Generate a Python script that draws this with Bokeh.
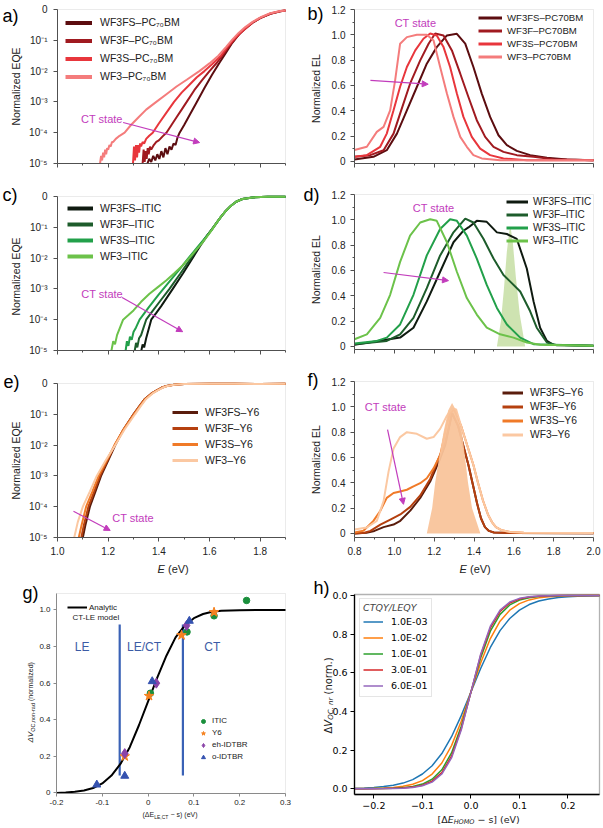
import math
from bokeh.plotting import figure
from bokeh.layouts import column, row
from bokeh.models import (Range1d, FixedTicker, CustomJSTickFormatter, Label, Legend,
                          LegendItem, Arrow, NormalHead, LinearAxis, LogAxis, BoxAnnotation)
from bokeh.core.properties import value
from bokeh.embed import file_html
from bokeh.resources import INLINE

# ------------------------------------------------------------------ data
names_pc_sub = ["WF3FS–PC₇₀BM", "WF3F–PC₇₀BM", "WF3S–PC₇₀BM", "WF3–PC₇₀BM"]
names_pc = ["WF3FS–PC70BM", "WF3F–PC70BM", "WF3S–PC70BM", "WF3–PC70BM"]
names_itic = ["WF3FS–ITIC", "WF3F–ITIC", "WF3S–ITIC", "WF3–ITIC"]
names_y6 = ["WF3FS–Y6", "WF3F–Y6", "WF3S–Y6", "WF3–Y6"]

# a) EQE (log10 values) vs E (eV)
a_E_WF3FS = [1.355,1.362,1.370,1.378,1.386,1.394,1.402,1.410,1.418,1.426,1.434,1.442,1.450,1.458,1.466,1.474,1.482,1.500,1.520,1.550,1.580,1.610,1.640,1.665,1.690,1.715,1.740,1.770,1.800,1.840,1.880,1.900]
a_lg_WF3FS = [-5.00,-4.85,-4.95,-4.75,-4.90,-4.70,-4.85,-4.60,-4.80,-4.50,-4.70,-4.45,-4.55,-4.35,-4.40,-4.15,-4.00,-3.75,-3.45,-3.00,-2.55,-2.12,-1.72,-1.40,-1.08,-0.82,-0.62,-0.43,-0.28,-0.14,-0.06,-0.03]
a_E_WF3F = [1.336,1.340,1.344,1.348,1.352,1.356,1.360,1.365,1.370,1.380,1.390,1.400,1.415,1.430,1.450,1.470,1.490,1.510,1.540,1.570,1.600,1.630,1.655,1.675,1.700,1.720,1.745,1.770,1.800,1.840,1.880,1.900]
a_lg_WF3F = [-5.00,-4.55,-4.95,-4.60,-4.85,-4.50,-4.70,-4.45,-4.55,-4.40,-4.30,-4.25,-4.12,-4.00,-3.75,-3.50,-3.25,-3.00,-2.62,-2.30,-2.00,-1.72,-1.45,-1.22,-0.96,-0.78,-0.60,-0.43,-0.28,-0.14,-0.06,-0.03]
a_E_WF3S = [1.298,1.302,1.306,1.310,1.314,1.318,1.322,1.326,1.330,1.336,1.342,1.350,1.362,1.376,1.400,1.430,1.460,1.490,1.520,1.550,1.580,1.610,1.645,1.670,1.695,1.720,1.745,1.770,1.800,1.840,1.880,1.900]
a_lg_WF3S = [-5.00,-4.45,-4.90,-4.40,-4.80,-4.40,-4.65,-4.35,-4.45,-4.30,-4.35,-4.20,-4.10,-4.00,-3.70,-3.35,-3.00,-2.70,-2.45,-2.20,-2.00,-1.78,-1.50,-1.22,-0.98,-0.77,-0.59,-0.42,-0.27,-0.13,-0.05,-0.03]
a_E_WF3 = [1.168,1.172,1.176,1.180,1.184,1.188,1.192,1.196,1.200,1.205,1.210,1.215,1.220,1.230,1.245,1.265,1.290,1.320,1.350,1.390,1.430,1.470,1.510,1.560,1.600,1.635,1.665,1.690,1.715,1.740,1.770,1.800,1.840,1.880,1.900]
a_lg_WF3 = [-5.00,-4.75,-4.90,-4.65,-4.80,-4.55,-4.70,-4.50,-4.55,-4.40,-4.45,-4.30,-4.30,-4.20,-4.10,-4.00,-3.75,-3.50,-3.25,-3.00,-2.75,-2.50,-2.28,-2.00,-1.75,-1.50,-1.22,-0.98,-0.76,-0.58,-0.40,-0.26,-0.12,-0.05,-0.03]

# b) normalized EL vs E (eV)
b_E_WF3FS = [0.800,0.895,0.962,1.013,1.063,1.113,1.163,1.213,1.264,1.314,1.356,1.397,1.439,1.481,1.523,1.565,1.615,1.682,1.766,1.866,2.000]
b_y_WF3FS = [0.016,0.037,0.089,0.220,0.404,0.588,0.772,0.903,0.995,1.008,0.930,0.746,0.536,0.352,0.207,0.129,0.084,0.050,0.029,0.016,0.010]
b_E_WF3F = [0.800,0.879,0.946,0.996,1.029,1.079,1.130,1.172,1.205,1.247,1.289,1.331,1.372,1.414,1.456,1.498,1.548,1.615,1.699,1.799,2.000]
b_y_WF3F = [0.037,0.050,0.089,0.220,0.378,0.614,0.798,0.930,1.010,0.995,0.877,0.693,0.509,0.326,0.194,0.116,0.076,0.050,0.037,0.018,0.010]
b_E_WF3S = [0.800,0.862,0.929,0.962,0.996,1.029,1.063,1.105,1.146,1.180,1.213,1.247,1.280,1.314,1.347,1.389,1.431,1.481,1.548,1.665,2.000]
b_y_WF3S = [0.037,0.050,0.116,0.220,0.404,0.590,0.746,0.877,0.969,1.010,0.995,0.903,0.746,0.536,0.352,0.194,0.102,0.050,0.024,0.010,0.010]
b_E_WF3 = [0.800,0.862,0.912,0.946,0.979,1.004,1.029,1.063,1.113,1.163,1.197,1.230,1.264,1.297,1.331,1.364,1.397,1.439,1.531,1.700,2.000]
b_y_WF3 = [0.090,0.116,0.234,0.273,0.404,0.641,0.930,0.982,1.000,1.000,0.956,0.746,0.536,0.352,0.194,0.116,0.050,0.024,0.010,0.010,0.010]

# c) EQE (log10) ITIC blends
c_E_WF3FS = [1.331,1.336,1.342,1.350,1.360,1.370,1.390,1.410,1.455,1.495,1.533,1.565,1.595,1.610,1.625,1.645,1.665,1.685,1.705,1.730,1.770,1.830,1.900]
c_lg_WF3FS = [-5.00,-4.80,-4.90,-4.60,-4.30,-4.00,-3.78,-3.55,-3.00,-2.50,-2.00,-1.58,-1.22,-1.06,-0.89,-0.66,-0.46,-0.30,-0.17,-0.08,-0.03,-0.01,-0.01]
c_E_WF3F = [1.305,1.310,1.315,1.322,1.330,1.340,1.350,1.375,1.400,1.442,1.485,1.527,1.560,1.590,1.608,1.625,1.645,1.665,1.685,1.705,1.730,1.770,1.830,1.900]
c_lg_WF3F = [-5.00,-4.75,-4.90,-4.60,-4.50,-4.25,-4.00,-3.72,-3.45,-3.00,-2.50,-2.00,-1.60,-1.27,-1.08,-0.89,-0.66,-0.46,-0.30,-0.17,-0.08,-0.03,-0.01,-0.01]
c_E_WF3S = [1.269,1.274,1.280,1.286,1.293,1.300,1.310,1.324,1.360,1.400,1.440,1.480,1.520,1.555,1.590,1.608,1.625,1.645,1.665,1.685,1.705,1.730,1.770,1.830,1.900]
c_lg_WF3S = [-5.00,-4.70,-4.85,-4.55,-4.65,-4.40,-4.25,-4.00,-3.60,-3.18,-2.78,-2.38,-1.97,-1.62,-1.28,-1.09,-0.89,-0.66,-0.46,-0.30,-0.17,-0.08,-0.03,-0.01,-0.01]
c_E_WF3 = [1.213,1.220,1.227,1.235,1.247,1.259,1.280,1.300,1.330,1.363,1.395,1.429,1.460,1.494,1.520,1.546,1.570,1.590,1.608,1.625,1.645,1.665,1.685,1.705,1.730,1.770,1.830,1.900]
c_lg_WF3 = [-5.00,-4.70,-4.80,-4.50,-4.25,-4.00,-3.85,-3.70,-3.42,-3.16,-2.95,-2.73,-2.50,-2.24,-2.00,-1.75,-1.52,-1.30,-1.10,-0.89,-0.66,-0.46,-0.30,-0.17,-0.08,-0.03,-0.01,-0.01]

# d) normalized EL ITIC blends + ITIC reference peak
d_E_WF3FS = [0.800,1.029,1.096,1.163,1.230,1.297,1.347,1.372,1.414,1.464,1.515,1.565,1.615,1.665,1.699,1.732,1.766,1.799,2.000]
d_y_WF3FS = [0.013,0.070,0.148,0.356,0.590,0.823,0.914,0.940,0.992,0.984,0.901,0.888,0.849,0.616,0.356,0.148,0.044,0.013,0.005]
d_E_WF3F = [0.800,0.962,1.029,1.096,1.163,1.230,1.297,1.356,1.397,1.448,1.498,1.548,1.582,1.632,1.682,1.715,1.766,1.816,2.000]
d_y_WF3F = [0.018,0.044,0.096,0.226,0.460,0.719,0.901,1.010,0.979,0.849,0.694,0.564,0.512,0.434,0.278,0.148,0.031,0.010,0.005]
d_E_WF3S = [0.800,0.912,0.962,1.029,1.096,1.163,1.230,1.280,1.314,1.364,1.414,1.464,1.515,1.565,1.632,1.699,2.000]
d_y_WF3S = [0.023,0.044,0.070,0.174,0.408,0.719,0.927,1.005,0.992,0.875,0.694,0.486,0.304,0.174,0.070,0.018,0.005]
d_E_WF3 = [0.800,0.862,0.929,0.979,1.029,1.079,1.130,1.180,1.213,1.264,1.314,1.364,1.414,1.464,1.531,1.598,1.665,1.732,2.000]
d_y_WF3 = [0.057,0.096,0.226,0.408,0.668,0.875,0.979,1.005,0.992,0.823,0.590,0.382,0.252,0.148,0.096,0.070,0.031,0.013,0.005]
d_fill_E = [1.515,1.535,1.550,1.565,1.578,1.585,1.595,1.610,1.630,1.657]
d_fill_y = [0.00,0.20,0.45,0.75,0.92,0.93,0.82,0.55,0.25,0.00]

# e) EQE (log10) Y6 blends
e_E_WF3FS = [1.100,1.110,1.128,1.150,1.172,1.200,1.228,1.260,1.300,1.325,1.345,1.370,1.390,1.410,1.430,1.460,1.500,1.600,1.700,1.800,1.900]
e_lg_WF3FS = [-5.00,-4.60,-4.00,-3.50,-3.00,-2.50,-2.00,-1.50,-1.00,-0.72,-0.50,-0.33,-0.23,-0.14,-0.08,-0.04,-0.02,-0.01,-0.01,-0.015,-0.01]
e_E_WF3F = [1.094,1.104,1.122,1.145,1.168,1.197,1.226,1.260,1.300,1.325,1.345,1.370,1.390,1.410,1.430,1.460,1.500,1.600,1.700,1.800,1.900]
e_lg_WF3F = [-5.00,-4.60,-4.00,-3.50,-3.00,-2.50,-2.00,-1.50,-1.00,-0.72,-0.50,-0.33,-0.23,-0.14,-0.08,-0.04,-0.02,-0.01,-0.01,-0.015,-0.01]
e_E_WF3S = [1.084,1.095,1.113,1.138,1.162,1.194,1.225,1.260,1.302,1.327,1.347,1.372,1.392,1.412,1.432,1.460,1.500,1.600,1.700,1.800,1.900]
e_lg_WF3S = [-5.00,-4.60,-4.00,-3.50,-3.00,-2.50,-2.00,-1.50,-1.00,-0.72,-0.50,-0.33,-0.23,-0.14,-0.08,-0.04,-0.02,-0.01,-0.01,-0.015,-0.01]
e_E_WF3 = [1.066,1.080,1.100,1.128,1.155,1.190,1.228,1.264,1.306,1.330,1.350,1.374,1.394,1.414,1.434,1.462,1.500,1.600,1.700,1.800,1.900]
e_lg_WF3 = [-5.00,-4.50,-4.00,-3.50,-3.00,-2.50,-2.00,-1.50,-1.00,-0.72,-0.50,-0.33,-0.23,-0.14,-0.08,-0.04,-0.02,-0.01,-0.01,-0.015,-0.01]

# f) normalized EL Y6 blends + Y6 reference peak
f_E_WF3FS = [0.800,0.860,0.900,0.946,0.996,1.030,1.080,1.130,1.180,1.230,1.256,1.275,1.290,1.320,1.345,1.372,1.395,1.415,1.435,1.455,1.475,1.500,1.600,2.000]
f_y_WF3FS = [0.000,0.005,0.020,0.050,0.070,0.100,0.180,0.280,0.410,0.590,0.700,0.840,0.950,0.850,0.700,0.540,0.380,0.240,0.120,0.050,0.020,0.008,0.003,0.002]
f_E_WF3F = [0.800,0.850,0.880,0.930,0.980,1.030,1.080,1.130,1.180,1.230,1.256,1.275,1.290,1.320,1.345,1.372,1.395,1.415,1.435,1.455,1.475,1.500,1.600,2.000]
f_y_WF3F = [0.000,0.005,0.020,0.070,0.110,0.150,0.210,0.300,0.430,0.620,0.720,0.850,0.950,0.850,0.700,0.540,0.380,0.240,0.120,0.050,0.020,0.008,0.003,0.002]
f_E_WF3S = [0.800,0.845,0.895,0.929,0.962,0.996,1.029,1.063,1.096,1.130,1.163,1.197,1.230,1.245,1.262,1.280,1.300,1.335,1.365,1.397,1.420,1.445,1.470,1.490,1.510,1.540,1.580,1.650,2.000]
f_y_WF3S = [0.008,0.021,0.099,0.177,0.281,0.319,0.332,0.345,0.371,0.397,0.436,0.514,0.618,0.720,0.850,0.950,0.980,0.850,0.700,0.540,0.400,0.260,0.150,0.090,0.050,0.025,0.012,0.006,0.003]
f_E_WF3 = [0.800,0.862,0.912,0.946,0.971,0.996,1.029,1.063,1.113,1.163,1.197,1.230,1.264,1.290,1.310,1.335,1.365,1.397,1.420,1.445,1.470,1.490,1.510,1.540,1.580,1.650,2.000]
f_y_WF3 = [0.031,0.047,0.099,0.255,0.488,0.670,0.761,0.800,0.787,0.748,0.761,0.826,0.930,0.990,0.980,0.850,0.700,0.540,0.400,0.260,0.150,0.090,0.050,0.025,0.012,0.006,0.003]
f_fill_E = [1.163,1.190,1.205,1.225,1.247,1.270,1.290,1.310,1.340,1.355,1.370,1.390,1.432]
f_fill_y = [0.00,0.20,0.40,0.60,0.80,0.97,1.03,0.97,0.80,0.60,0.40,0.20,0.00]

# g) normalized dV_OC,non-rad vs (dE_LE,CT - s)
g_model_x = [-0.20,-0.18,-0.16,-0.14,-0.12,-0.10,-0.08,-0.06,-0.04,-0.02,0.00,0.02,0.04,0.06,0.08,0.10,0.12,0.14,0.16,0.20,0.25,0.30]
g_model_y = [0.000,0.002,0.006,0.013,0.027,0.052,0.095,0.160,0.250,0.370,0.500,0.630,0.750,0.850,0.915,0.955,0.978,0.990,0.996,0.999,1.000,1.000]
itic_x = [0.005, 0.085, 0.144, 0.215]
itic_y = [0.545, 0.880, 0.968, 1.052]
y6_x = [-0.051, 0.002, 0.073, 0.144]
y6_y = [0.200, 0.530, 0.862, 0.988]
eh_x = [-0.051, 0.018, 0.084]
eh_y = [0.215, 0.600, 0.915]
o_x = [-0.112, -0.051, 0.009, 0.090]
o_y = [0.045, 0.093, 0.610, 0.940]
g_region_x = [-0.062, 0.076]
g_region_y0 = [0.095, 0.095]
g_region_y1 = [0.920, 0.920]
g_region_names = ["LE", "LE/CT", "CT"]
g_region_label_x = [-0.144, -0.009, 0.140]
g_series_names = ["ITIC", "Y6", "eh-IDTBR", "o-IDTBR"]

# h) simulated dV_OC,nr (norm.) vs [dE_HOMO - s]
h_x = [-0.24,-0.22,-0.20,-0.18,-0.16,-0.14,-0.12,-0.10,-0.08,-0.06,-0.04,-0.02,0.00,0.02,0.04,0.06,0.08,0.10,0.12,0.14,0.16,0.18,0.20,0.22,0.24,0.265]
h_1e3 = [0.0025,0.0041,0.0067,0.011,0.018,0.029,0.047,0.076,0.119,0.182,0.269,0.378,0.500,0.622,0.731,0.818,0.881,0.924,0.953,0.971,0.982,0.989,0.993,0.996,0.9975,0.9986]
h_1e2 = [0.0006,0.0010,0.0019,0.0036,0.0067,0.0124,0.023,0.042,0.076,0.133,0.223,0.349,0.500,0.651,0.777,0.867,0.924,0.958,0.977,0.9876,0.9933,0.9964,0.9981,0.9990,0.9994,0.9997]
h_1e1 = [0.0001,0.0003,0.0006,0.0013,0.0027,0.0056,0.0116,0.024,0.049,0.098,0.185,0.323,0.500,0.677,0.815,0.902,0.951,0.976,0.9884,0.9944,0.9973,0.9987,0.9994,0.9997,0.9999,1.0]
h_3e1 = [0.0001,0.0002,0.0003,0.0007,0.0017,0.0037,0.0082,0.018,0.039,0.083,0.168,0.310,0.500,0.690,0.832,0.917,0.961,0.982,0.9918,0.9963,0.9983,0.9993,0.9997,0.9998,0.9999,1.0]
h_6e1 = [0.0000,0.0001,0.0002,0.0006,0.0013,0.0029,0.0067,0.015,0.034,0.076,0.159,0.304,0.500,0.696,0.841,0.924,0.966,0.985,0.9933,0.9971,0.9987,0.9994,0.9998,0.9999,1.0,1.0]
h_names = ["1.0E-03", "1.0E-02", "1.0E-01", "3.0E-01", "6.0E-01"]

# ticks
E_EQE_MAJOR = [1.0, 1.2, 1.4, 1.6, 1.8]
E_EQE_MINOR = [1.1, 1.3, 1.5, 1.7, 1.9]
E_EL_MAJOR = [0.8, 1.0, 1.2, 1.4, 1.6, 1.8, 2.0]
E_EL_MINOR = [0.9, 1.1, 1.3, 1.5, 1.7, 1.9]
LOG_TICKS = [1e-5, 1e-4, 1e-3, 1e-2, 1e-1, 1.0]
EL_MAJOR = [0.0, 0.2, 0.4, 0.6, 0.8, 1.0, 1.2]
EL_MINOR = [0.1, 0.3, 0.5, 0.7, 0.9, 1.1]
G_XTICKS = [-0.2, -0.1, 0.0, 0.1, 0.2, 0.3]
G_YTICKS = [0.0, 0.2, 0.4, 0.6, 0.8, 1.0]
H_XTICKS = [-0.2, -0.1, 0.0, 0.1, 0.2]
H_YTICKS = [0.0, 0.2, 0.4, 0.6, 0.8, 1.0]

# ------------------------------------------------------------------ style
SANS = "Liberation Sans"
MPL = "DejaVu Sans"
MAG = "#c23cbc"
AX = "#505050"
RED = ["#5c0d10", "#a01a20", "#e8363c", "#f47c7c"]
GRN = ["#0f1a10", "#1d5c2b", "#22a04a", "#6cc24a"]
ORG = ["#5a1c0c", "#b5400f", "#f07a28", "#fbc8a2"]
TAB = ["#1f77b4", "#ff7f0e", "#2ca02c", "#d62728", "#9467bd"]
GBLUE = "#3a62b6"

LOG_CODE = """
const e = Math.round(Math.log10(tick));
if (e === 0) { return "0"; }
const s = {1: "\\u00b9", 2: "\\u00b2", 3: "\\u00b3", 4: "\\u2074", 5: "\\u2075"};
return "10\\u207b" + s[-e];
"""
BLANK = "return '';"
ZERO1 = "return Math.abs(tick) < 1e-9 ? '0' : tick.toFixed(1);"
FIX1 = "return tick.toFixed(1);"


def fmt(code):
    return CustomJSTickFormatter(code=code)


class Panel:
    """A figure whose frame fills the whole canvas; axes are pinned at the plot-box edges."""

    def __init__(self, org, size, box, xr, yr, log=False, box_color="#bdbdbd", box_width=1.0):
        ox, oy = org
        w, h = size
        L, T, R, B = box[0] - ox, box[1] - oy, box[2] - ox, box[3] - oy
        self.left, self.bottom = ox, oy + h
        x0, x1 = xr
        xpp = (x1 - x0) / (R - L)
        xs, xe = x0 - L * xpp, x1 + (w - R) * xpp
        if log:
            l0, l1 = math.log10(yr[0]), math.log10(yr[1])
            ypp = (l1 - l0) / (B - T)
            ys, ye = 10 ** (l0 - (h - B) * ypp), 10 ** (l1 + T * ypp)
        else:
            ypp = (yr[1] - yr[0]) / (B - T)
            ys, ye = yr[0] - (h - B) * ypp, yr[1] + T * ypp
        p = figure(width=w, height=h, x_range=Range1d(xs, xe), y_range=Range1d(ys, ye),
                   y_axis_type="log" if log else "linear",
                   x_axis_location=None, y_axis_location=None,
                   output_backend="svg", toolbar_location=None,
                   min_border=0, min_border_left=0, min_border_right=0,
                   min_border_top=0, min_border_bottom=0)
        p.grid.visible = False
        p.outline_line_color = None
        p.background_fill_color = "white"
        p.border_fill_color = "white"
        p.add_layout(BoxAnnotation(left=x0, right=x1, bottom=yr[0], top=yr[1],
                                   fill_alpha=0.0, fill_color=None, line_color=box_color,
                                   line_width=box_width, level="underlay"))
        self.xaxis = LinearAxis(fixed_location=yr[0], bounds=(x0, x1))
        self.yaxis = (LogAxis if log else LinearAxis)(fixed_location=x0, bounds=(yr[0], yr[1]))
        for ax in (self.xaxis, self.yaxis):
            ax.axis_line_color = AX
            ax.major_tick_line_color = AX
            ax.minor_tick_line_color = AX
            ax.major_tick_in = 0
            ax.major_tick_out = 4
            ax.minor_tick_in = 0
            ax.minor_tick_out = 2
            ax.major_label_text_font = SANS
            ax.major_label_text_font_size = "10px"
            ax.major_label_text_color = "#222222"
            ax.major_label_standoff = 5
        p.add_layout(self.xaxis, "below")
        p.add_layout(self.yaxis, "left")
        self.p = p

    def text(self, px, py, t, size, font=SANS, style="normal", angle=0.0, align="left",
             color="#222222", baseline="middle"):
        self.p.add_layout(Label(x=px - self.left, y=self.bottom - py, x_units="screen",
                                y_units="screen", text=t, text_font=font,
                                text_font_size=f"{size}px", text_font_style=style,
                                text_color=color, angle=angle, text_align=align,
                                text_baseline=baseline, level="overlay"))

    def dtext(self, x, y, t, size, color, align="center"):
        self.p.add_layout(Label(x=x, y=y, text=t, text_font=SANS, text_font_size=f"{size}px",
                                text_color=color, text_align=align, text_baseline="middle"))

    def legend(self, labels, rends, px, py_bottom, size, gw, gh, standoff, spacing=0,
               font=SANS, key_width=None, **kw):
        if key_width is not None:
            # legend keys drawn thicker than the curves (as in the original figure):
            # a one-point line draws nothing in the plot but supplies the legend key style
            keys = []
            for r in rends:
                src = r.data_source.data
                keys.append(self.p.line(list(src["x"][:1]), list(src["y"][:1]),
                                        line_color=r.glyph.line_color, line_width=key_width))
            rends = keys
        leg = Legend(items=[LegendItem(label=value(l), renderers=[r]) for l, r in zip(labels, rends)],
                     location=(px - self.left, self.bottom - py_bottom), padding=0, margin=0,
                     spacing=spacing, glyph_width=gw, glyph_height=gh, label_height=8,
                     label_width=8, label_standoff=standoff, label_text_font=font,
                     label_text_font_size=f"{size}px", label_text_color="#222222",
                     border_line_color=None, background_fill_alpha=0.0)
        for k, v in kw.items():
            setattr(leg, k, v)
        self.p.add_layout(leg)

    def arrow(self, x0, y0, x1, y1):
        self.p.add_layout(Arrow(end=NormalHead(size=6, fill_color=MAG, line_color=MAG, line_width=1),
                                x_start=x0, y_start=y0, x_end=x1, y_end=y1,
                                line_color=MAG, line_width=1.2))

    def lines(self, xs, ys, colors, log=False, width=2.0):
        out = []
        for x, y, c in zip(xs, ys, colors):
            yy = [10 ** v for v in y] if log else list(y)
            out.append(self.p.line(list(x), yy, line_color=c, line_width=width))
        return out


def log_panel(org, size, box, show_x):
    P = Panel(org, size, box, (1.0, 1.9), (1e-5, 1.0), log=True)
    P.xaxis.ticker = FixedTicker(ticks=E_EQE_MAJOR, minor_ticks=E_EQE_MINOR)
    P.xaxis.formatter = fmt(FIX1 if show_x else BLANK)
    P.yaxis.ticker = FixedTicker(ticks=LOG_TICKS, minor_ticks=[])
    P.yaxis.formatter = fmt(LOG_CODE)
    P.yaxis.major_label_standoff = 6
    return P


def el_panel(org, size, box, show_x, ymin):
    P = Panel(org, size, box, (0.8, 2.0), (ymin, 1.2))
    P.xaxis.ticker = FixedTicker(ticks=E_EL_MAJOR, minor_ticks=E_EL_MINOR)
    P.xaxis.formatter = fmt(FIX1 if show_x else BLANK)
    P.yaxis.ticker = FixedTicker(ticks=EL_MAJOR, minor_ticks=EL_MINOR)
    P.yaxis.formatter = fmt(ZERO1)
    return P


def letter(P, px, py, t):
    P.text(px, py, t, 18, color="black")


# ------------------------------------------------------------------ a
A = log_panel((0, 0), (300, 180), (57, 9, 285, 163), False)
ra = A.lines([a_E_WF3FS, a_E_WF3F, a_E_WF3S, a_E_WF3],
             [a_lg_WF3FS, a_lg_WF3F, a_lg_WF3S, a_lg_WF3], RED, log=True)
A.legend(names_pc_sub, ra, 65, 84.5, 10.5, 27, 17, 8, spacing=1, key_width=4)
letter(A, 2, 15, "a)")
A.text(15, 86, "Normalized EQE", 10.5, angle=math.pi / 2, align="center")
A.dtext(1.175, 10 ** -3.54, "CT state", 11, MAG)
A.arrow(1.259, 10 ** -3.67, 1.561, 10 ** -4.32)

# ------------------------------------------------------------------ b
B = el_panel((300, 0), (303, 180), (354, 9, 593, 163), False, -0.016)
rb = B.lines([b_E_WF3FS, b_E_WF3F, b_E_WF3S, b_E_WF3],
             [b_y_WF3FS, b_y_WF3F, b_y_WF3S, b_y_WF3], RED)
B.legend(names_pc, rb, 478, 62.5, 9.6, 24, 13, 5, key_width=3)
letter(B, 307, 13, "b)")
B.text(315, 88, "Normalized EL", 10.5, angle=math.pi / 2, align="center")
B.dtext(1.106, 1.09, "CT state", 11, MAG)
B.arrow(0.88, 0.64, 1.17, 0.61)

# ------------------------------------------------------------------ c
C = log_panel((0, 180), (300, 188), (57, 196, 285, 350), False)
rc = C.lines([c_E_WF3FS, c_E_WF3F, c_E_WF3S, c_E_WF3],
             [c_lg_WF3FS, c_lg_WF3F, c_lg_WF3S, c_lg_WF3], GRN, log=True)
C.legend(names_itic, rc, 67, 264, 10.5, 26, 16, 7, key_width=4)
letter(C, 2, 194, "c)")
C.text(15, 276, "Normalized EQE", 10.5, angle=math.pi / 2, align="center")
C.dtext(1.176, 10 ** -3.15, "CT state", 11, MAG)
C.arrow(1.255, 10 ** -3.28, 1.494, 10 ** -4.39)

# ------------------------------------------------------------------ d
D = el_panel((300, 180), (303, 188), (354, 194, 593, 349), False, -0.024)
D.p.patch(d_fill_E, d_fill_y, fill_color="#c9e0a8", fill_alpha=0.9, line_color=None)
rd = D.lines([d_E_WF3FS, d_E_WF3F, d_E_WF3S, d_E_WF3],
             [d_y_WF3FS, d_y_WF3F, d_y_WF3S, d_y_WF3], GRN)
D.legend(names_itic, rd, 506, 246.5, 10, 22, 13, 5, key_width=3)
letter(D, 303, 194, "d)")
D.text(315, 269, "Normalized EL", 10.5, angle=math.pi / 2, align="center")
D.dtext(1.197, 1.097, "CT state", 11, MAG)
D.arrow(0.946, 0.584, 1.272, 0.52)

# ------------------------------------------------------------------ e
E = log_panel((0, 368), (300, 210), (57, 383, 285, 537), True)
re_ = E.lines([e_E_WF3FS, e_E_WF3F, e_E_WF3S, e_E_WF3],
              [e_lg_WF3FS, e_lg_WF3F, e_lg_WF3S, e_lg_WF3], ORG, log=True)
E.legend(names_y6, re_, 172, 468, 10.5, 26, 16, 7, key_width=3)
letter(E, 3, 381, "e)")
E.text(15, 460, "Normalized EQE", 10.5, angle=math.pi / 2, align="center")
E.text(157, 568, "E", 11, style="italic")
E.text(167.5, 568, "(eV)", 11)
E.dtext(1.298, 10 ** -4.38, "CT state", 11, MAG)
E.arrow(1.063, 10 ** -4.15, 1.208, 10 ** -4.77)

# ------------------------------------------------------------------ f
F = el_panel((300, 368), (303, 210), (354, 381, 593, 537), True, -0.032)
rf = F.lines([f_E_WF3FS, f_E_WF3F, f_E_WF3S, f_E_WF3],
             [f_y_WF3FS, f_y_WF3F, f_y_WF3S, f_y_WF3], ORG)
F.p.patch(f_fill_E, f_fill_y, fill_color="#f9c49b", fill_alpha=0.95, line_color=None)
F.legend(names_y6, rf, 502, 440.5, 10.3, 21, 13, 7, spacing=1, key_width=3)
letter(F, 307, 379, "f)")
F.text(315, 459, "Normalized EL", 10.5, angle=math.pi / 2, align="center")
F.text(459, 568, "E", 11, style="italic")
F.text(469.5, 568, "(eV)", 11)
F.dtext(0.956, 0.995, "CT state", 11, MAG)
F.arrow(0.966, 0.82, 1.046, 0.23)

# ------------------------------------------------------------------ g
G = Panel((0, 578), (300, 248), (56, 593, 285, 793), (-0.2, 0.3), (-0.003, 1.09))
G.xaxis.ticker = FixedTicker(ticks=G_XTICKS, minor_ticks=[])
G.yaxis.ticker = FixedTicker(ticks=G_YTICKS, minor_ticks=[])
G.xaxis.formatter = fmt(ZERO1)
G.yaxis.formatter = fmt(ZERO1)
for ax in (G.xaxis, G.yaxis):
    ax.major_label_text_font_size = "8px"
    ax.major_tick_out = 3
    ax.major_label_standoff = 3
    ax.axis_line_color = "#8a8a8a"
    ax.major_tick_line_color = "#8a8a8a"
G.p.segment(x0=g_region_x, y0=g_region_y0, x1=g_region_x, y1=g_region_y1,
            line_color=GBLUE, line_width=2.2)
rl = G.p.line(g_model_x, g_model_y, line_color="black", line_width=2)
r1 = G.p.scatter(itic_x, itic_y, marker="circle", size=6.5, fill_color="#1a8f3c", line_color="#1a8f3c")
r2 = G.p.scatter(y6_x, y6_y, marker="star", size=10, fill_color="#f58220", line_color="#f58220")
r3 = G.p.scatter(eh_x, eh_y, marker="diamond", size=10, fill_color="#8a43a8", line_color="#8a43a8")
r4 = G.p.scatter(o_x, o_y, marker="triangle", size=8, fill_color="#3552b0", line_color="#3552b0")
for nm, xx in zip(g_region_names, g_region_label_x):
    G.dtext(xx, 0.80, nm, 12, "#3b5ba5")
G.legend(["Analytic"], [rl], 67, 612, 8, 20, 10, 2)
G.text(72, 617, "CT-LE model", 8)
G.legend(g_series_names, [r1, r2, r3, r4], 198, 762.7, 8, 10, 12, 4)
letter(G, 22, 592, "g)")
G.text(30, 742, "ΔV", 8, style="italic", angle=math.pi / 2)
G.text(32, 731.3, "OC,non-rad", 5.5, angle=math.pi / 2)
G.text(30, 700.5, "(normalized)", 7, angle=math.pi / 2)
G.text(142, 814, "(ΔE", 7)
G.text(153.7, 816, "LE,CT", 5)
G.text(170, 814, "− s) (eV)", 7)

# ------------------------------------------------------------------ h
H = Panel((300, 578), (303, 248), (354, 594, 599, 794), (-0.24, 0.265), (-0.03, 1.005),
          box_color="black", box_width=1.3)
H.xaxis.ticker = FixedTicker(ticks=H_XTICKS, minor_ticks=[])
H.yaxis.ticker = FixedTicker(ticks=H_YTICKS, minor_ticks=[])
H.xaxis.formatter = fmt("return (tick < -1e-9 ? '\\u2212' : '') + Math.abs(tick).toFixed(1);")
H.yaxis.formatter = fmt("return tick > 0.95 ? '0.0' : tick.toFixed(1);")
for ax in (H.xaxis, H.yaxis):
    ax.axis_line_color = "black"
    ax.axis_line_width = 1.3
    ax.major_tick_line_color = "black"
    ax.major_label_text_font = MPL
    ax.major_label_text_font_size = "9.5px"
    ax.major_label_text_color = "black"
    ax.major_label_standoff = 3
rh = H.lines([h_x] * 5, [h_1e3, h_1e2, h_1e1, h_3e1, h_6e1], TAB, width=1.5)
H.legend(h_names, rh, 359, 697, 9.5, 20, 15, 8, spacing=1, font=MPL,
         padding=3, title="CTQY/LEQY", title_text_font=MPL, title_text_font_size="9.5px",
         title_text_font_style="italic", title_standoff=1, border_line_color="#cccccc",
         border_line_width=1, background_fill_color="white", background_fill_alpha=0.85,
         label_text_color="black")
letter(H, 313, 587, "h)")
H.text(328, 733, "Δ", 10, font=MPL, angle=math.pi / 2)
H.text(328, 726.2, "V", 10, font=MPL, style="italic", angle=math.pi / 2)
H.text(330.5, 719.3, "OC, nr", 7, font=MPL, style="italic", angle=math.pi / 2)
H.text(328, 694, "(norm.)", 10, font=MPL, angle=math.pi / 2)
H.text(437, 819, "[Δ", 9.5, font=MPL)
H.text(447.2, 819, "E", 9.5, font=MPL, style="italic")
H.text(453.2, 821.5, "HOMO", 6.5, font=MPL, style="italic")
H.text(476.9, 819, "− s] (eV)", 9.5, font=MPL)

layout = column(row(A.p, B.p, spacing=0), row(C.p, D.p, spacing=0),
                row(E.p, F.p, spacing=0), row(G.p, H.p, spacing=0), spacing=0)
with open("out.html", "w", encoding="utf-8") as fh:
    fh.write(file_html(layout, INLINE, title="EQE / EL panels"))
